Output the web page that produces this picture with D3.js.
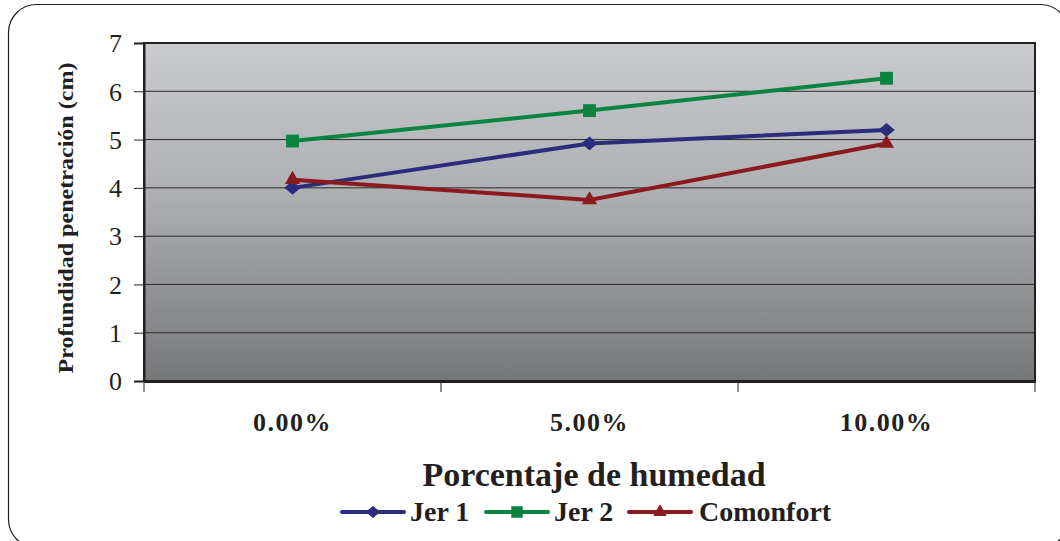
<!DOCTYPE html>
<html>
<head>
<meta charset="utf-8">
<script src="https://cdn.jsdelivr.net/npm/d3@7"></script>
<style>
  body { margin: 0; background: #fff; }
  svg { display: block; }
  text { font-family: "Liberation Serif", "Times New Roman", serif; fill: #231f20; }
</style>
</head>
<body>
<svg id="chart" width="1060" height="541"></svg>
<script>
const categories = ['0.00%', '5.00%', '10.00%'];
const seriesNames = ['Jer 1', 'Jer 2', 'Comonfort'];
const jer1 = [4.0, 4.92, 5.2];
const jer2 = [4.97, 5.6, 6.27];
const comonfort = [4.17, 3.75, 4.92];
const yTicks = [0, 1, 2, 3, 4, 5, 6, 7];

const colors = ['#2b2d7c', '#0b8341', '#8b1a1d'];
const allSeries = [jer1, jer2, comonfort];

const svg = d3.select('#chart');
const margin = { left: 144, right: 25, top: 43, bottom: 160 };
const width = 1060, height = 541;

// marker drawing: diamond, square, triangle
function marker(g, si, scale) {
    if (si === 0) {
        g.append('path')
            .attr('d', d3.symbol().type(d3.symbolSquare).size(110 * scale)())
            .attr('transform', 'scale(1.12,0.92) rotate(45)');
    } else if (si === 1) {
        g.append('path').attr('d', d3.symbol().type(d3.symbolSquare).size(165 * scale)());
    } else {
        g.append('path').attr('d', d3.symbol().type(d3.symbolTriangle).size(100 * scale)());
    }
    g.attr('fill', colors[si]);
}

// outer rounded frame
svg.append('rect')
    .attr('x', 8.5).attr('y', 4.5)
    .attr('width', 1060).attr('height', 543)
    .attr('rx', 28).attr('ry', 28)
    .attr('fill', '#fff')
    .attr('stroke', '#231f20')
    .attr('stroke-width', 1.2);

const x = d3.scaleBand()
    .domain(categories)
    .range([margin.left, width - margin.right]);

const y = d3.scaleLinear()
    .domain([0, 7])
    .range([height - margin.bottom, margin.top]);

const defs = svg.append('defs');
const grad = defs.append('linearGradient')
    .attr('id', 'bg-grad')
    .attr('x1', '0%').attr('y1', '0%')
    .attr('x2', '0%').attr('y2', '100%');
grad.append('stop').attr('offset', '0%').attr('stop-color', '#cacbce');
grad.append('stop').attr('offset', '45%').attr('stop-color', '#aeafb2');
grad.append('stop').attr('offset', '100%').attr('stop-color', '#767779');

svg.append('rect')
    .attr('x', margin.left)
    .attr('y', margin.top)
    .attr('width', x.range()[1] - margin.left)
    .attr('height', y(0) - margin.top)
    .attr('fill', 'url(#bg-grad)')
    .attr('stroke', '#231f20')
    .attr('stroke-width', 2);

// gridlines
svg.append('g')
    .selectAll('line')
    .data(yTicks.filter(t => t > 0 && t < 7))
    .enter().append('line')
    .attr('x1', margin.left).attr('x2', x.range()[1])
    .attr('y1', d => y(d)).attr('y2', d => y(d))
    .attr('stroke', '#2a2a2a')
    .attr('stroke-width', 1);

// y axis
const yAxis = svg.append('g')
    .attr('transform', `translate(${margin.left},0)`)
    .call(d3.axisLeft(y).tickValues(yTicks).tickSize(10).tickPadding(12).tickFormat(d3.format('d')));
yAxis.select('.domain').attr('stroke', '#231f20').attr('stroke-width', 2);
yAxis.selectAll('.tick line').attr('stroke', '#231f20');
yAxis.selectAll('.tick text')
    .attr('font-size', 26)
    .attr('font-family', '"Liberation Serif", serif')
    .attr('fill', '#231f20')
    .attr('dy', '0.34em');

// x axis
const xAxis = svg.append('g')
    .attr('transform', `translate(0,${y(0)})`)
    .call(d3.axisBottom(x).tickSize(0).tickPadding(0));
xAxis.select('.domain').attr('stroke', '#231f20').attr('stroke-width', 3);
xAxis.selectAll('.tick text')
    .attr('y', 50)
    .attr('dy', 0)
    .attr('font-size', 26)
    .attr('font-weight', 'bold')
    .attr('letter-spacing', 1.5)
    .attr('font-family', '"Liberation Serif", serif')
    .attr('fill', '#231f20');

// category separators below the axis
const bounds = categories.map(c => x(c)).concat([x.range()[1]]);
svg.append('g')
    .selectAll('line')
    .data(bounds)
    .enter().append('line')
    .attr('x1', d => d).attr('x2', d => d)
    .attr('y1', y(0)).attr('y2', y(0) + 11)
    .attr('stroke', '#231f20')
    .attr('stroke-width', 1);

// axis titles
svg.append('text')
    .attr('transform', 'translate(73,218) rotate(-90)')
    .attr('text-anchor', 'middle')
    .attr('font-size', 22)
    .attr('font-weight', 'bold')
    .attr('textLength', 311)
    .attr('lengthAdjust', 'spacingAndGlyphs')
    .text('Profundidad penetración (cm)');

svg.append('text')
    .attr('x', 594).attr('y', 486)
    .attr('text-anchor', 'middle')
    .attr('font-size', 34)
    .attr('font-weight', 'bold')
    .text('Porcentaje de humedad');

// series
const line = d3.line()
    .x((d, i) => x(categories[i]) + x.bandwidth() / 2)
    .y(d => y(d));

allSeries.forEach((vals, si) => {
    svg.append('path')
        .datum(vals)
        .attr('d', line)
        .attr('fill', 'none')
        .attr('stroke', colors[si])
        .attr('stroke-width', 4);

    vals.forEach((d, i) => {
        const g = svg.append('g')
            .attr('transform', `translate(${x(categories[i]) + x.bandwidth() / 2},${y(d)})`);
        marker(g, si, 1);
    });
});

// legend
const legendItems = [
    { x: 342, textX: 410 },
    { x: 486, textX: 554 },
    { x: 629, textX: 699 }
];
const legend = svg.append('g').attr('transform', 'translate(0,512)');
legendItems.forEach((item, i) => {
    legend.append('line')
        .attr('x1', item.x).attr('x2', item.x + 62)
        .attr('y1', 0).attr('y2', 0)
        .attr('stroke', colors[i])
        .attr('stroke-width', 4)
        .attr('stroke-linecap', 'round');
    const g = legend.append('g').attr('transform', `translate(${item.x + 31},0)`);
    marker(g, i, 0.8);
    legend.append('text')
        .attr('x', item.textX).attr('y', 9)
        .attr('font-size', 28)
        .attr('font-weight', 'bold')
        .text(seriesNames[i]);
});
</script>
</body>
</html>
